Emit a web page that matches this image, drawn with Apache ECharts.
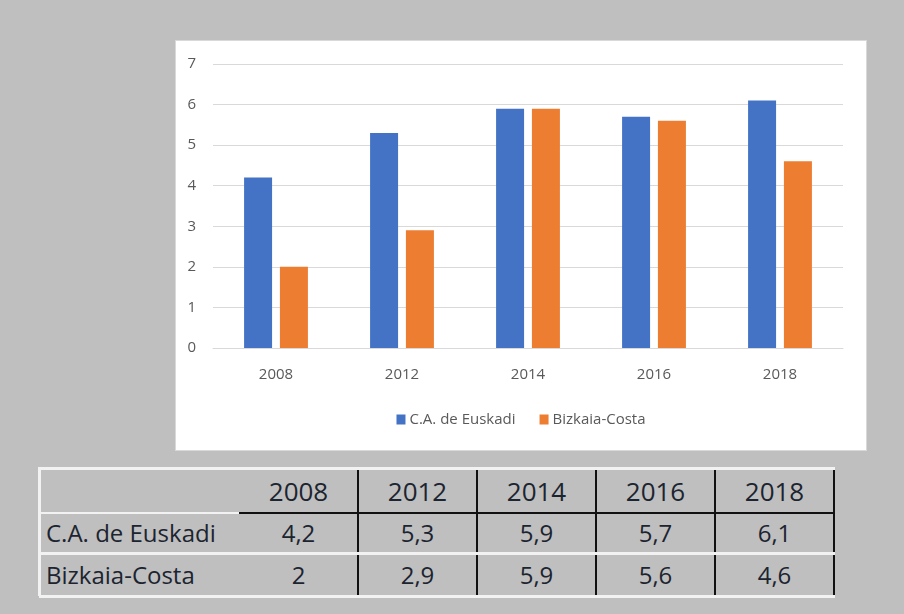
<!DOCTYPE html>
<html>
<head>
    <meta charset="utf-8">
    <title></title>
    <script src="https://cdn.jsdelivr.net/npm/echarts@6/dist/echarts.min.js"></script>
    <style>
        body {
            margin: 0;
            width: 904px;
            height: 614px;
            background-color: #bfbfbf;
            position: relative;
            overflow: hidden;
            font-family: "Open Sans", sans-serif;
        }

        #chart {
            position: absolute;
            left: 176px;
            top: 41px;
            width: 690px;
            height: 409px;
            background-color: white;
            box-shadow: 0 0 0 1px #d9d9d9;
        }

        #table {
            position: absolute;
            left: 0;
            top: 0;
        }

        .cell {
            position: absolute;
            color: #1c2430;
            white-space: nowrap;
        }

        .line {
            position: absolute;
        }
    </style>
</head>
<body>
<div id="chart"></div>
<div id="table"></div>
<script type="text/javascript">
    var years = ['2008', '2012', '2014', '2016', '2018'];
    var euskadi = [4.2, 5.3, 5.9, 5.7, 6.1];
    var bizkaia = [2, 2.9, 5.9, 5.6, 4.6];
    var seriesNames = ['C.A. de Euskadi', 'Bizkaia-Costa'];

    var chart = echarts.init(document.getElementById('chart'));
    var option = {
        textStyle: {fontFamily: 'Open Sans'},
        grid: {left: 37, right: 23, top: 23, bottom: 102},
        legend: {
            data: seriesNames,
            top: 366,
            left: 'center',
            icon: 'rect',
            itemWidth: 9,
            itemHeight: 10,
            itemGap: 24,
            textStyle: {color: '#595959', fontSize: 15, fontFamily: 'Open Sans', padding: [0, 0, 0, -1]}
        },
        xAxis: {
            type: 'category',
            data: years,
            axisLine: {lineStyle: {color: '#d9d9d9'}},
            axisTick: {show: false},
            axisLabel: {color: '#595959', fontSize: 15, margin: 19}
        },
        yAxis: {
            type: 'value',
            min: 0,
            max: 7,
            interval: 1,
            axisLine: {show: false},
            axisTick: {show: false},
            axisLabel: {color: '#595959', fontSize: 15, margin: 17},
            splitLine: {lineStyle: {color: '#d9d9d9'}}
        },
        series: [{
            name: seriesNames[0],
            type: 'bar',
            data: euskadi,
            barWidth: 28,
            barGap: '28%',
            itemStyle: {color: '#4472c4'}
        }, {
            name: seriesNames[1],
            type: 'bar',
            data: bizkaia,
            barWidth: 28,
            itemStyle: {color: '#ed7d31'}
        }]
    };
    chart.setOption(option);

    // tabla de datos debajo del grafico
    var tbl = document.getElementById('table');
    var colX = [40, 239, 358, 477, 596, 715, 834];
    var rowY = [469, 513, 553, 596];

    function addCell(text, x, y, w, h, size, align) {
        var d = document.createElement('div');
        d.className = 'cell';
        d.style.left = x + 'px';
        d.style.top = y + 'px';
        d.style.width = w + 'px';
        d.style.height = h + 'px';
        d.style.lineHeight = h + 'px';
        d.style.fontSize = size + 'px';
        d.style.textAlign = align;
        d.textContent = text;
        tbl.appendChild(d);
    }

    function addLine(x, y, w, h, color) {
        var d = document.createElement('div');
        d.className = 'line';
        d.style.left = x + 'px';
        d.style.top = y + 'px';
        d.style.width = w + 'px';
        d.style.height = h + 'px';
        d.style.background = color;
        tbl.appendChild(d);
    }

    var rows = [[seriesNames[0]].concat(euskadi), [seriesNames[1]].concat(bizkaia)];
    for (var i = 0; i < years.length; i++) {
        addCell(years[i], colX[i + 1], rowY[0], colX[i + 2] - colX[i + 1], rowY[1] - rowY[0], 26, 'center');
    }
    for (var r = 0; r < rows.length; r++) {
        var h = rowY[r + 2] - rowY[r + 1];
        addCell(rows[r][0], colX[0] + 6, rowY[r + 1], colX[1] - colX[0], h, 24, 'left');
        for (var c = 1; c < rows[r].length; c++) {
            addCell(String(rows[r][c]).replace('.', ','), colX[c], rowY[r + 1], colX[c + 1] - colX[c], h, 24, 'center');
        }
    }

    // lineas negras verticales
    for (var k = 2; k < colX.length; k++) {
        addLine(colX[k] - 1, rowY[0], 2, rowY[3] - rowY[0], '#111');
    }
    // linea bajo la cabecera
    addLine(colX[0], rowY[1] - 1, colX[1] - colX[0], 2, '#f2f2f2');
    addLine(colX[1], rowY[1] - 1, colX[6] - colX[1] + 1, 2, '#111');
    // lineas blancas
    addLine(colX[0] - 1, rowY[0] - 2, colX[6] - colX[0] + 2, 3, '#f2f2f2');
    addLine(colX[0] - 1, rowY[2] - 1, colX[6] - colX[0] + 2, 3, '#f2f2f2');
    addLine(colX[0] - 1, rowY[3] - 1, colX[6] - colX[0] + 2, 3, '#f2f2f2');
    addLine(colX[0] - 2, rowY[0] - 2, 3, rowY[3] - rowY[0] + 2, '#f2f2f2');
</script>
</body>
</html>
